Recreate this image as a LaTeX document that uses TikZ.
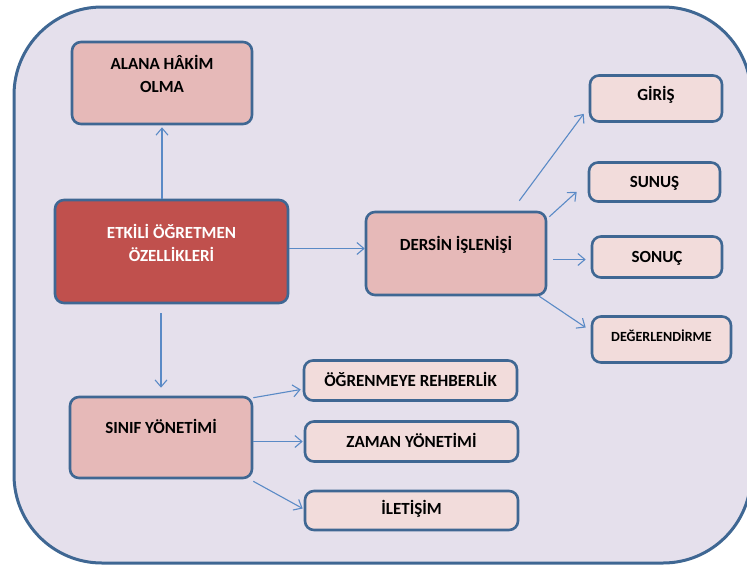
\documentclass[tikz,border=0pt]{standalone}
\usepackage{fontspec}
\setmainfont{Carlito}
\usetikzlibrary{arrows.meta}
\definecolor{bg}{HTML}{E5E0EC}
\definecolor{framec}{HTML}{3F6793}
\definecolor{pinkA}{HTML}{E6B9B8}
\definecolor{pinkB}{HTML}{F2DCDB}
\definecolor{redA}{HTML}{C0504D}
\definecolor{arr}{HTML}{5A8AC6}
\begin{document}
\begin{tikzpicture}[x=1pt,y=-1pt,
  box/.style={draw=framec, line width=2.6pt, rounded corners=9pt,
    font=\fontsize{17}{23}\selectfont\bfseries, inner sep=0pt, text height=11pt, text depth=0pt},
  bigbox/.style={box, fill=pinkA},
  smallbox/.style={box, fill=pinkB},
  mainbox/.style={box, fill=redA, text=white},
  conn/.style={draw=arr, line width=1.1pt, -{Straight Barb[length=7pt,width=12pt]}}]
\useasboundingbox (0,0) rectangle (747,566);
\draw[draw=framec, line width=3pt, fill=bg, rounded corners=88pt] (14,7) rectangle (751,563);

\node[bigbox, minimum width=180pt, minimum height=82pt, text depth=38pt] (alana) at (162,83)
  {\begin{tabular}[t]{@{}c@{}}ALANA HÂKİM\\OLMA\end{tabular}};
\node[mainbox, minimum width=233pt, minimum height=103pt, text depth=38pt] (etkili) at (171.5,251.5)
  {\begin{tabular}[t]{@{}c@{}}ETKİLİ ÖĞRETMEN\\ÖZELLİKLERİ\end{tabular}};
\node[bigbox, minimum width=180pt, minimum height=83pt, text depth=17pt] (dersin) at (456,253.5) {DERSİN İŞLENİŞİ};
\node[bigbox, minimum width=182pt, minimum height=81pt, text depth=19pt] (sinif) at (161,437.5) {SINIF YÖNETİMİ};

\node[smallbox, minimum width=132pt, minimum height=46pt, text depth=7pt] (giris) at (656,98.5) {GİRİŞ};
\node[smallbox, minimum width=131pt, minimum height=39pt] (sunus) at (654.5,182) {SUNUŞ};
\node[smallbox, minimum width=130pt, minimum height=41pt] (sonuc) at (657,257) {SONUÇ};
\node[smallbox, minimum width=139pt, minimum height=46pt, text depth=6pt, text height=9pt,
  font=\fontsize{14}{17}\selectfont\bfseries] (deger) at (661.5,339.5) {DEĞERLENDİRME};
\node[smallbox, minimum width=213pt, minimum height=40pt] (ogren) at (410.5,380.5) {ÖĞRENMEYE REHBERLİK};
\node[smallbox, minimum width=213pt, minimum height=40pt] (zaman) at (411.5,441.5) {ZAMAN YÖNETİMİ};
\node[smallbox, minimum width=213pt, minimum height=39pt, text depth=3pt] (iletisim) at (411.5,510.5) {İLETİŞİM};

% connectors
\draw[conn] (alana.south |- etkili.north) -- ([yshift=-2pt]alana.south);
\draw[conn] ([yshift=-9pt]sinif.north |- etkili.south) -- ([yshift=8pt]sinif.north);
\draw[conn] ([yshift=3pt]etkili.east) -- ([yshift=3pt]etkili.east -| dersin.west);

\coordinate (d1) at ([shift={(-28,-10)}]dersin.north east);
\coordinate (d2) at ([shift={(2,6)}]dersin.north east);
\coordinate (d3) at ([shift={(6,6)}]dersin.east);
\coordinate (d4) at ([shift={(-8,0)}]dersin.south east);
\draw[conn] (d1) -- ([shift={(-5,-9)}]giris.south west);
\draw[conn] (d2) -- ([shift={(-11,-11)}]sunus.south west);
\draw[conn] (d3) -- ([xshift=-5pt]d3 -| sonuc.west);
\draw[conn] (d4) -- ([shift={(-5,-12)}]deger.west);

\coordinate (s1) at ([shift={(0,2)}]sinif.north east);
\coordinate (s3) at ([shift={(0,2)}]sinif.south east);
\draw[conn] (s1) -- ([shift={(-2,9)}]ogren.west);
\draw[conn] (sinif.east |- zaman.west) -- ([xshift=-1pt]zaman.west);
\draw[conn] (s3) -- ([shift={(-1,-2)}]iletisim.west);
\end{tikzpicture}
\end{document}
